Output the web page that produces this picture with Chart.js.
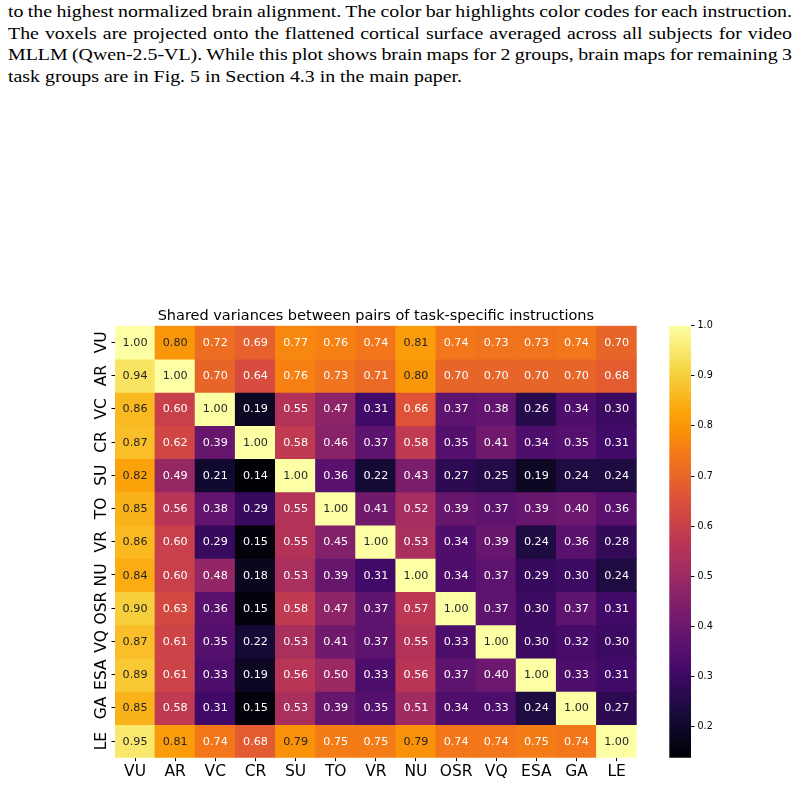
<!DOCTYPE html>
<html>
<head>
<meta charset="utf-8">
<script src="https://cdn.jsdelivr.net/npm/chart.js@4.4.1/dist/chart.umd.min.js"></script>
<style>
html,body{margin:0;padding:0;background:#fff;width:808px;height:785px;overflow:hidden;position:relative}
#caption{position:absolute;left:8px;top:0.8px;font-family:"Liberation Serif","Times New Roman",serif;font-size:16.5px;line-height:21.8px;color:#000;transform-origin:0 0;}
#caption span{display:inline-block;white-space:nowrap}
canvas{position:absolute}
</style>
</head>
<body>
<div id="caption">
<span>to the highest normalized brain alignment. The color bar highlights color codes for each instruction.</span><br>
<span>The voxels are projected onto the flattened cortical surface averaged across all subjects for video</span><br>
<span>MLLM (Qwen-2.5-VL). While this plot shows brain maps for 2 groups, brain maps for remaining 3</span><br>
<span>task groups are in Fig. 5 in Section 4.3 in the main paper.</span>
</div>
<canvas id="heat" width="650" height="495" style="left:0;top:290px"></canvas>
<canvas id="cbar" width="158" height="495" style="left:650px;top:290px"></canvas>
<script>
// ---------- data ----------
const rowLabels = ['VU','AR','VC','CR','SU','TO','VR','NU','OSR','VQ','ESA','GA','LE'];
const colLabels = ['VU','AR','VC','CR','SU','TO','VR','NU','OSR','VQ','ESA','GA','LE'];
const rowVU  = [1.00,0.80,0.72,0.69,0.77,0.76,0.74,0.81,0.74,0.73,0.73,0.74,0.70];
const rowAR  = [0.94,1.00,0.70,0.64,0.76,0.73,0.71,0.80,0.70,0.70,0.70,0.70,0.68];
const rowVC  = [0.86,0.60,1.00,0.19,0.55,0.47,0.31,0.66,0.37,0.38,0.26,0.34,0.30];
const rowCR  = [0.87,0.62,0.39,1.00,0.58,0.46,0.37,0.58,0.35,0.41,0.34,0.35,0.31];
const rowSU  = [0.82,0.49,0.21,0.14,1.00,0.36,0.22,0.43,0.27,0.25,0.19,0.24,0.24];
const rowTO  = [0.85,0.56,0.38,0.29,0.55,1.00,0.41,0.52,0.39,0.37,0.39,0.40,0.36];
const rowVR  = [0.86,0.60,0.29,0.15,0.55,0.45,1.00,0.53,0.34,0.39,0.24,0.36,0.28];
const rowNU  = [0.84,0.60,0.48,0.18,0.53,0.39,0.31,1.00,0.34,0.37,0.29,0.30,0.24];
const rowOSR = [0.90,0.63,0.36,0.15,0.58,0.47,0.37,0.57,1.00,0.37,0.30,0.37,0.31];
const rowVQ  = [0.87,0.61,0.35,0.22,0.53,0.41,0.37,0.55,0.33,1.00,0.30,0.32,0.30];
const rowESA = [0.89,0.61,0.33,0.19,0.56,0.50,0.33,0.56,0.37,0.40,1.00,0.33,0.31];
const rowGA  = [0.85,0.58,0.31,0.15,0.53,0.39,0.35,0.51,0.34,0.33,0.24,1.00,0.27];
const rowLE  = [0.95,0.81,0.74,0.68,0.79,0.75,0.75,0.79,0.74,0.74,0.75,0.74,1.00];
const rows = [rowVU,rowAR,rowVC,rowCR,rowSU,rowTO,rowVR,rowNU,rowOSR,rowVQ,rowESA,rowGA,rowLE];
const colorMin = 0.138;
const colorMax = 1.0;
const cbTicks = [0.2,0.3,0.4,0.5,0.6,0.7,0.8,0.9,1.0];
const chartTitle = 'Shared variances between pairs of task-specific instructions';

// ---------- caption layout (justified, slightly stretched serif text) ----------
(function(){
  const cap = document.getElementById('caption');
  const spans = cap.querySelectorAll('span');
  const last = spans[spans.length - 1];
  const s = 454 / last.getBoundingClientRect().width;
  const target = 784 / s;
  for (let k = 0; k < spans.length - 1; k++) {
    const sp = spans[k];
    const nat = sp.getBoundingClientRect().width;
    const gaps = (sp.textContent.match(/ /g) || []).length;
    sp.style.wordSpacing = ((target - nat) / gaps) + 'px';
  }
  cap.style.transform = 'scaleX(' + s + ')';
})();

// ---------- inferno colormap ----------
const INFERNO = [
  [0.00,'#000004'],[0.10,'#160b39'],[0.20,'#420a68'],[0.25,'#57106e'],[0.30,'#6a176e'],
  [0.40,'#932667'],[0.50,'#bc3754'],[0.60,'#dd513a'],[0.70,'#f37819'],[0.75,'#f98e09'],
  [0.80,'#fca50a'],[0.90,'#f6d746'],[1.00,'#fcffa4']
];
function hex2rgb(h){return [parseInt(h.slice(1,3),16),parseInt(h.slice(3,5),16),parseInt(h.slice(5,7),16)];}
function cmapRGB(t){
  t = Math.max(0, Math.min(1, t));
  for (let k = 0; k < INFERNO.length - 1; k++) {
    const [t0,c0] = INFERNO[k], [t1,c1] = INFERNO[k+1];
    if (t <= t1) {
      const f = (t - t0) / (t1 - t0);
      const a = hex2rgb(c0), b = hex2rgb(c1);
      return a.map((v,i) => v + (b[i]-v)*f);
    }
  }
  return hex2rgb(INFERNO[INFERNO.length-1][1]);
}
function colorFor(v){
  const c = cmapRGB((v - colorMin) / (colorMax - colorMin));
  return 'rgb(' + c.map(x => Math.round(x)).join(',') + ')';
}
function textColorFor(v){
  const c = cmapRGB((v - colorMin) / (colorMax - colorMin)).map(x => {
    x /= 255; return x <= 0.03928 ? x/12.92 : Math.pow((x+0.055)/1.055, 2.4);
  });
  const lum = 0.2126*c[0] + 0.7152*c[1] + 0.0722*c[2];
  return lum > 0.39 ? '#262626' : '#ffffff';
}

const FONT = '"DejaVu Sans", Verdana, sans-serif';

// ---------- heatmap ----------
const annotate = {
  id: 'annotate',
  afterDatasetsDraw(chart){
    const c = chart.ctx;
    c.save();
    c.font = '11.2px ' + FONT;
    c.textAlign = 'center';
    c.textBaseline = 'alphabetic';
    chart.data.datasets.forEach((ds, i) => {
      const meta = chart.getDatasetMeta(i);
      meta.data.forEach((bar, j) => {
        const v = ds.values[j];
        const cy = (bar.y + bar.base) / 2;
        c.fillStyle = textColorFor(v);
        c.fillText(v.toFixed(2), bar.x, cy + 3.6);
      });
    });
    c.restore();
  },
  afterDraw(chart){
    const c = chart.ctx, ys = chart.scales.y;
    c.save();
    c.font = '15.5px ' + FONT;
    c.fillStyle = '#000';
    c.textAlign = 'center';
    c.textBaseline = 'alphabetic';
    rowLabels.forEach((lab, i) => {
      const y = ys.getPixelForValue(i + 0.5);
      c.save();
      c.translate(ys.right - 9.3, y);
      c.rotate(-Math.PI/2);
      c.fillText(lab, 0, 0);
      c.restore();
    });
    c.restore();
  }
};

new Chart(document.getElementById('heat'), {
  type: 'bar',
  data: {
    labels: colLabels,
    datasets: rows.map((vals, i) => ({
      label: rowLabels[i],
      data: vals.map(() => [i, i + 1]),
      values: vals,
      backgroundColor: vals.map(colorFor),
      borderWidth: 0,
      inflateAmount: 0.5,
      barPercentage: 1,
      categoryPercentage: 1,
      grouped: false
    }))
  },
  options: {
    responsive: false,
    animation: false,
    devicePixelRatio: 1,
    layout: { padding: { top: 0, right: 13.3, left: 0, bottom: 0 } },
    plugins: {
      legend: { display: false },
      tooltip: { enabled: false },
      title: {
        display: true,
        text: chartTitle,
        fullSize: false,
        color: '#000',
        font: { family: FONT, size: 14.5, weight: 'normal' },
        padding: { top: 17.7, bottom: 0.6 }
      }
    },
    scales: {
      x: {
        type: 'category',
        offset: true,
        border: { display: false },
        grid: { display: true, offset: false, drawOnChartArea: false, drawTicks: true, tickLength: 3.5, tickWidth: 1, tickColor: '#000' },
        ticks: { color: '#000', font: { family: FONT, size: 15.5 }, padding: 1.6, maxRotation: 0, autoSkip: false },
        afterFit: s => { s.height = 27.3; }
      },
      y: {
        type: 'linear',
        min: 0,
        max: rowLabels.length,
        reverse: true,
        border: { display: false },
        grid: { display: true, drawOnChartArea: false, drawTicks: true, tickLength: 3.5, tickWidth: 1, tickColor: '#000' },
        ticks: { display: false },
        afterBuildTicks: s => { s.ticks = rowLabels.map((_, i) => ({ value: i + 0.5 })); },
        afterFit: s => { s.width = 115; }
      }
    }
  },
  plugins: [annotate]
});

// ---------- colour bar ----------
new Chart(document.getElementById('cbar'), {
  type: 'bar',
  data: {
    labels: ['colorbar'],
    datasets: [{
      data: [[colorMin, colorMax]],
      backgroundColor: (ctx) => {
        const chart = ctx.chart, area = chart.chartArea;
        if (!area) return '#000';
        const g = chart.ctx.createLinearGradient(0, area.bottom, 0, area.top);
        for (let k = 0; k <= 60; k++) {
          const t = k / 60;
          const c = cmapRGB(t);
          g.addColorStop(t, 'rgb(' + c.map(x => Math.round(x)).join(',') + ')');
        }
        return g;
      },
      borderWidth: 0,
      barPercentage: 1,
      categoryPercentage: 1
    }]
  },
  options: {
    responsive: false,
    animation: false,
    devicePixelRatio: 1,
    layout: { padding: { top: 35.7, bottom: 27.3, left: 19.3, right: 0 } },
    plugins: { legend: { display: false }, tooltip: { enabled: false }, title: { display: false } },
    scales: {
      x: { display: false },
      y: {
        type: 'linear',
        position: 'right',
        min: colorMin,
        max: colorMax,
        border: { display: false },
        grid: { display: true, drawOnChartArea: false, drawTicks: true, tickLength: 3.5, tickWidth: 1, tickColor: '#000' },
        ticks: { color: '#000', font: { family: FONT, size: 9.6 }, padding: 3, callback: v => Number(v).toFixed(1) },
        afterBuildTicks: s => { s.ticks = cbTicks.map(v => ({ value: v })); },
        afterFit: s => { s.width = 117; }
      }
    }
  }
});
</script>
</body>
</html>
